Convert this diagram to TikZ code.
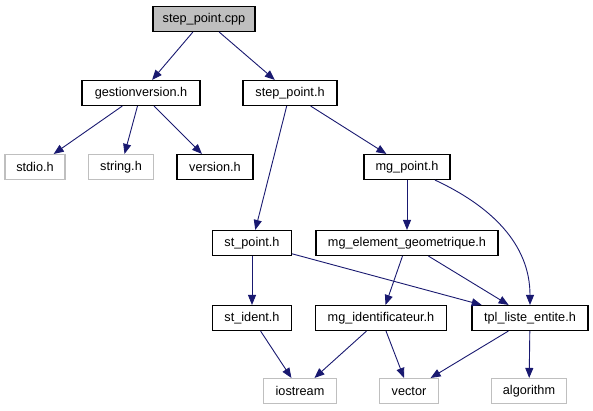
\documentclass[tikz,border=0pt]{standalone}
\usepackage{fontspec}
\setmainfont{Liberation Sans}
\usepackage{tikz}
\usetikzlibrary{arrows.meta}
\definecolor{EdgeBlue}{HTML}{191970}
\definecolor{ExtGrey} {HTML}{BFBFBF}

\begin{document}
\begin{tikzpicture}[
  x=1pt, y=1pt,
  font=\fontsize{12.7}{15}\selectfont,
  file/.style={draw=black, line width=1.1pt, minimum height=25pt, inner sep=0pt},
  sysfile/.style={file, draw=ExtGrey},
  inc/.style={-{Triangle[length=10pt,width=8pt]}, line width=0.9pt, draw=EdgeBlue}
]
  \useasboundingbox (0,0) rectangle (593,-411);

  % the source file at the top
  \node[file, fill=ExtGrey, minimum width=102pt] (cpp) at (204,-19) {step\_point.cpp};

  % first level of headers
  \node[file, minimum width=118pt] (gestion) at (141,-93) {gestionversion.h};
  \node[file, minimum width=94pt]  (steph)   at (290,-93) {step\_point.h};

  \node[sysfile, minimum width=60pt] (stdio)   at (35,-167)  {stdio.h};
  \node[sysfile, minimum width=65pt] (string)  at (121,-167) {string.h};
  \node[file, minimum width=76pt]    (version) at (215,-167) {version.h};
  \node[file, minimum width=86pt]    (mgpoint) at (407,-167) {mg\_point.h};

  \node[file, minimum width=79pt]  (stpoint) at (252,-243) {st\_point.h};
  \node[file, minimum width=182pt] (mgelem)  at (407,-243) {mg\_element\_geometrique.h};

  \node[file, minimum width=79pt]  (stident) at (252,-318) {st\_ident.h};
  \node[file, minimum width=131pt] (mgident) at (381,-318) {mg\_identificateur.h};
  \node[file, minimum width=116pt] (tpl)     at (530,-318) {tpl\_liste\_entite.h};

  % system headers at the bottom
  \node[sysfile, minimum width=73pt] (iostream)  at (300,-391) {iostream};
  \node[sysfile, minimum width=59pt] (vector)    at (409,-391) {vector};
  \node[sysfile, minimum width=75pt] (algorithm) at (529,-391) {algorithm};

  % include edges
  \draw[inc] (cpp) -- (gestion);
  \draw[inc] (cpp) -- (steph);
  \draw[inc] (gestion) -- (stdio);
  \draw[inc] (gestion) -- (string);
  \draw[inc] (gestion) -- (version);
  \draw[inc] (steph) -- (stpoint);
  \draw[inc] (steph) -- (mgpoint);
  \draw[inc] (mgpoint) -- (mgelem);
  \draw[inc] (mgpoint) to[out=-25,in=90] (tpl);
  \draw[inc] (stpoint) -- (stident);
  \draw[inc] (stpoint) -- (tpl);
  \draw[inc] (mgelem) -- (mgident);
  \draw[inc] (mgelem) -- (tpl);
  \draw[inc] (stident) -- (iostream);
  \draw[inc] (mgident) -- (iostream);
  \draw[inc] (mgident) -- (vector);
  \draw[inc] (tpl) -- (vector);
  \draw[inc] (tpl) -- (algorithm);
\end{tikzpicture}
\end{document}
